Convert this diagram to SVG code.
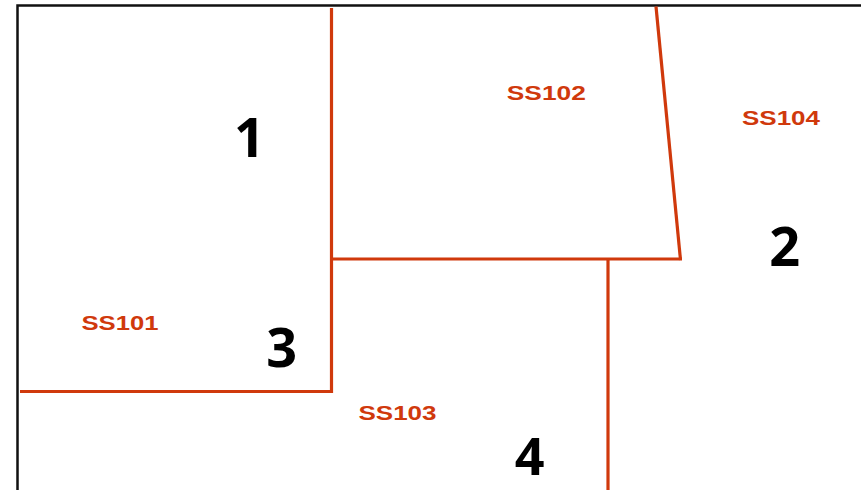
<svg xmlns="http://www.w3.org/2000/svg" width="861" height="490" viewBox="0 0 861 490">
<style>
.frame{stroke:#111;stroke-width:2.5;fill:none}
.wall{stroke:#D0390C;stroke-width:3.2;fill:none;stroke-linecap:butt}
.lbl{font-family:"Liberation Sans",Arial,sans-serif;font-weight:bold;font-size:21px;fill:#D0390C;text-anchor:middle}
.num{font-family:"Open Sans","Liberation Sans",sans-serif;font-weight:bold;font-size:54px;fill:#000;text-anchor:middle}
</style>
<rect width="861" height="490" fill="#fff"/>
<g id="connectors">
<path class="frame" d="M17.5,490 V5.5 H861"/>
<path class="wall" d="M331.5,8 V391.5 H20"/>
<path class="wall" d="M656,6.5 L680.5,260"/>
<path class="wall" d="M331.5,259 H682"/>
<path class="wall" d="M608,259 V490"/>
</g>
<g id="SS101"><text class="lbl" x="120" y="329.5" textLength="77" lengthAdjust="spacingAndGlyphs">SS101</text></g>
<g id="SS102"><text class="lbl" x="546.3" y="99.5" textLength="79" lengthAdjust="spacingAndGlyphs">SS102</text></g>
<g id="SS103"><text class="lbl" x="397.5" y="419.5" textLength="78" lengthAdjust="spacingAndGlyphs">SS103</text></g>
<g id="SS104"><text class="lbl" x="781" y="124.5" textLength="78" lengthAdjust="spacingAndGlyphs">SS104</text></g>
<g id="n1"><text class="num" x="249.5" y="157">1</text></g>
<g id="n2"><text class="num" x="784.7" y="266">2</text></g>
<g id="n3"><text class="num" x="281.7" y="367">3</text></g>
<g id="n4"><text class="num" x="529.7" y="475" style="font-size:52px">4</text></g>
</svg>
